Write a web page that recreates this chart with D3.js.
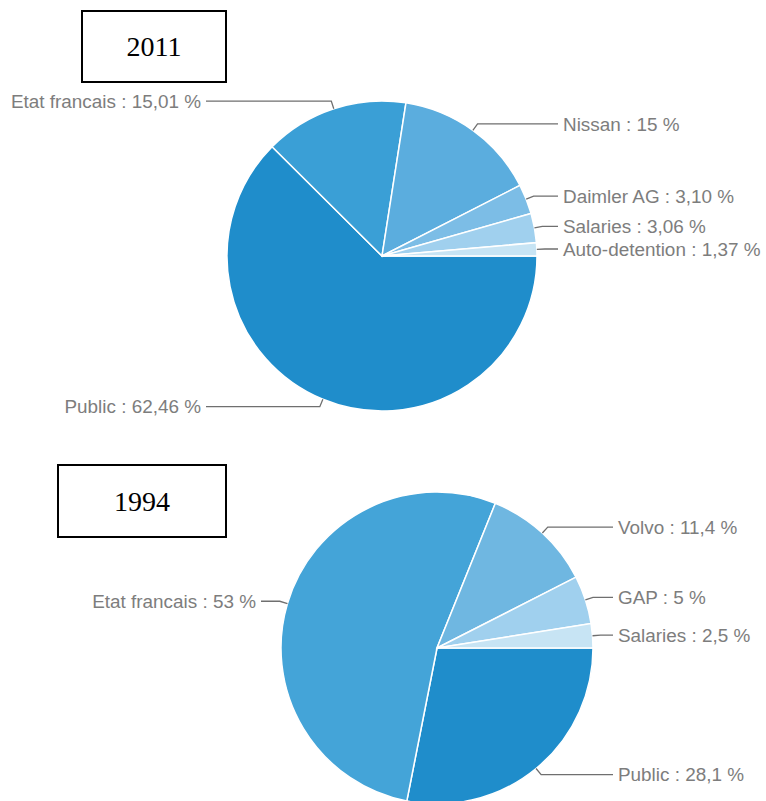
<!DOCTYPE html>
<html lang="fr">
<head>
  <meta charset="UTF-8">
  <title>Actionnariat</title>
  <script src="https://cdn.jsdelivr.net/npm/d3@7"></script>
  <style>
    body { margin: 0; background: #fff; }
    svg { display: block; }
  </style>
</head>
<body>
  <svg id="chart" width="766" height="801"></svg>
  <script>
    // 2011
    const labels2011 = ['Public', 'Etat francais', 'Nissan', 'Daimler AG', 'Salaries', 'Auto-detention'];
    const values2011 = [62.46, 15.01, 15, 3.10, 3.06, 1.37];
    const text2011 = ['62,46', '15,01', '15', '3,10', '3,06', '1,37'];
    const colors2011 = ['#1f8dcb', '#3a9fd6', '#5badde', '#7cbde6', '#a0d0ee', '#c7e4f4'];

    // 1994
    const labels1994 = ['Public', 'Etat francais', 'Volvo', 'GAP', 'Salaries'];
    const values1994 = [28.1, 53, 11.4, 5, 2.5];
    const text1994 = ['28,1', '53', '11,4', '5', '2,5'];
    const colors1994 = ['#1f8dcb', '#44a4d8', '#6fb7e1', '#a0d0ee', '#c7e4f4'];

    const svg = d3.select('#chart');

    function drawPie(opt) {
      let data = opt.labels.map((l, i) => ({ label: l, value: opt.values[i], txt: opt.text[i], color: opt.colors[i] }));
      let r = opt.r;

      // starts at 3 o'clock, clockwise
      let pie = d3.pie().sort(null).value(d => d.value)
        .startAngle(Math.PI / 2).endAngle(Math.PI / 2 + 2 * Math.PI);
      let arc = d3.arc().innerRadius(0).outerRadius(r);

      let g = svg.append('g').attr('transform', 'translate(' + opt.cx + ',' + opt.cy + ')');

      g.selectAll('path')
        .data(pie(data))
        .enter()
        .append('path')
        .attr('d', arc)
        .attr('fill', d => d.data.color)
        .attr('stroke', '#fff')
        .attr('stroke-width', 1.5);

      // leader lines + labels
      pie(data).forEach(d => {
        let a = (d.startAngle + d.endAngle) / 2;
        let sx = Math.sin(a), sy = -Math.cos(a);
        let p0 = [r * sx, r * sy];
        let p1 = [(r + 8) * sx, (r + 8) * sy];
        let right = sx >= 0;
        let endX = right ? 176 : -176;

        g.append('path')
          .attr('d', d3.line()([p0, p1, [endX, p1[1]]]))
          .attr('fill', 'none')
          .attr('stroke', '#6f6f6f')
          .attr('stroke-width', 1.3);

        g.append('text')
          .attr('x', right ? 181 : -181)
          .attr('y', p1[1])
          .attr('dy', '0.36em')
          .attr('text-anchor', right ? 'start' : 'end')
          .attr('font-family', 'Liberation Sans, Arial, sans-serif')
          .attr('font-size', 18.9)
          .attr('fill', '#7d7d7d')
          .text(d.data.label + ' : ' + d.data.txt + ' %');
      });

      // year box
      svg.append('rect')
        .attr('x', opt.box[0]).attr('y', opt.box[1])
        .attr('width', opt.box[2]).attr('height', opt.box[3])
        .attr('fill', '#fff').attr('stroke', '#000').attr('stroke-width', 2);
      svg.append('text')
        .attr('x', opt.box[0] + opt.box[2] / 2)
        .attr('y', opt.box[1] + opt.box[3] / 2)
        .attr('dy', '0.35em')
        .attr('text-anchor', 'middle')
        .attr('font-family', 'Liberation Serif, Times New Roman, serif')
        .attr('font-size', 28)
        .attr('fill', '#000')
        .text(opt.year);
    }

    drawPie({ year: '2011', labels: labels2011, values: values2011, text: text2011, colors: colors2011,
      cx: 382, cy: 256, r: 155, box: [82, 11, 144, 71] });
    drawPie({ year: '1994', labels: labels1994, values: values1994, text: text1994, colors: colors1994,
      cx: 437, cy: 648, r: 156, box: [58, 465, 168, 72] });
  </script>
</body>
</html>
